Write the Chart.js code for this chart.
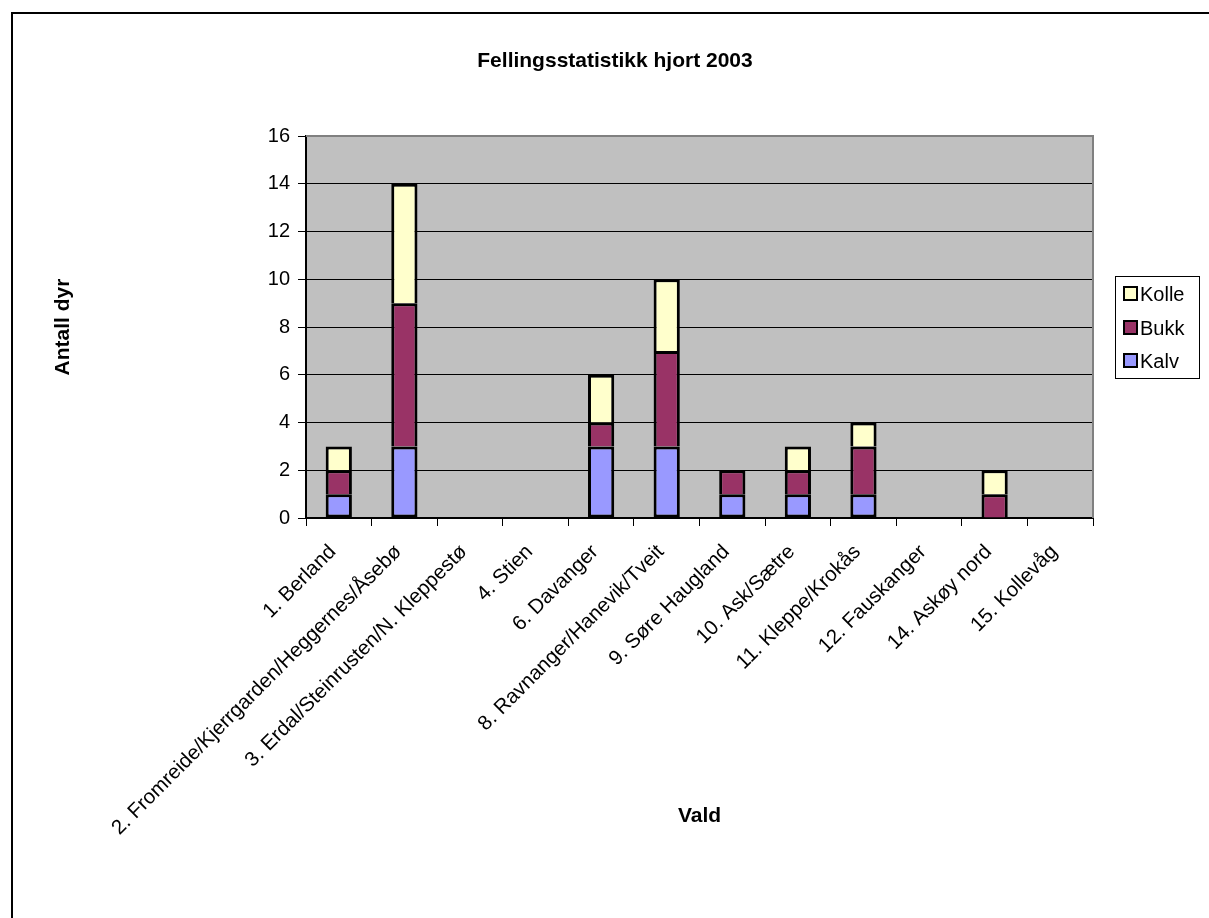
<!DOCTYPE html>
<html>
<head>
<meta charset="utf-8">
<script src="https://cdn.jsdelivr.net/npm/chart.js@4"></script>
<style>
  html, body { margin: 0; padding: 0; background: #fff; overflow: hidden; }
  canvas { display: block; }
</style>
</head>
<body>
<canvas id="hjort" width="1209" height="918"></canvas>
<script>
const categories = [
  "1. Berland",
  "2. Fromreide/Kjerrgarden/Heggernes/Åsebø",
  "3. Erdal/Steinrusten/N. Kleppestø",
  "4. Stien",
  "6. Davanger",
  "8. Ravnanger/Hanevik/Tveit",
  "9. Søre Haugland",
  "10. Ask/Sætre",
  "11. Kleppe/Krokås",
  "12. Fauskanger",
  "14. Askøy nord",
  "15. Kollevåg"
];
const kalv  = [1, 3, 0, 0, 3, 3, 1, 1, 1, 0, 0, 0];
const bukk  = [1, 6, 0, 0, 1, 4, 1, 1, 2, 0, 1, 0];
const kolle = [1, 5, 0, 0, 2, 3, 0, 1, 1, 0, 1, 0];
const yTicks = [0, 2, 4, 6, 8, 10, 12, 14, 16];

const FONT = "'Liberation Sans', Arial, sans-serif";

// grey plot area, outer frame, titles and the boxed legend
const excelLook = {
  id: "excelLook",
  beforeDraw(chart) {
    const { ctx, chartArea: a } = chart;
    ctx.save();
    ctx.fillStyle = "#fff";
    ctx.fillRect(0, 0, chart.width, chart.height);
    ctx.fillStyle = "#c0c0c0";
    ctx.fillRect(a.left, a.top, a.right - a.left, a.bottom - a.top);
    ctx.restore();
  },
  afterDraw(chart) {
    const { ctx, chartArea: a } = chart;
    ctx.save();
    // plot border (top/right grey)
    ctx.strokeStyle = "#808080";
    ctx.lineWidth = 2;
    ctx.beginPath();
    ctx.moveTo(a.left, a.top);
    ctx.lineTo(a.right, a.top);
    ctx.lineTo(a.right, a.bottom);
    ctx.stroke();

    // outer frame
    ctx.strokeStyle = "#000";
    ctx.lineWidth = 2;
    ctx.beginPath();
    ctx.moveTo(12, chart.height);
    ctx.lineTo(12, 13);
    ctx.lineTo(chart.width, 13);
    ctx.stroke();

    // titles
    ctx.fillStyle = "#000";
    ctx.font = "bold 21px " + FONT;
    ctx.textAlign = "center";
    ctx.textBaseline = "middle";
    ctx.fillText("Fellingsstatistikk hjort 2003", 615, 61);
    ctx.fillText("Vald", (a.left + a.right) / 2, 816);
    ctx.save();
    ctx.translate(63, (a.top + a.bottom) / 2);
    ctx.rotate(-Math.PI / 2);
    ctx.fillText("Antall dyr", 0, 0);
    ctx.restore();

    // legend
    ctx.fillStyle = "#fff";
    ctx.fillRect(1115, 276, 84, 102);
    ctx.strokeStyle = "#000";
    ctx.lineWidth = 1;
    ctx.strokeRect(1115.5, 276.5, 84, 102);
    const items = chart.data.datasets.slice().reverse();
    const rows = [294, 328, 361];
    ctx.font = "20px " + FONT;
    ctx.textAlign = "left";
    items.forEach((ds, i) => {
      const y = rows[i];
      ctx.fillStyle = ds.backgroundColor;
      ctx.fillRect(1124, y - 7, 13, 13);
      ctx.lineWidth = 2;
      ctx.strokeStyle = "#000";
      ctx.strokeRect(1124, y - 7, 13, 13);
      ctx.fillStyle = "#000";
      ctx.fillText(ds.label, 1140, y + 1);
    });
    ctx.restore();
  }
};

const barStyle = {
  borderColor: "#000",
  borderWidth: 3,
  inflateAmount: 0,
  categoryPercentage: 1.0,
  barPercentage: 0.4
};

new Chart(document.getElementById("hjort"), {
  type: "bar",
  data: {
    labels: categories,
    datasets: [
      { label: "Kalv",  data: kalv,  backgroundColor: "#9999ff", borderSkipped: false, ...barStyle },
      { label: "Bukk",  data: bukk,  backgroundColor: "#993366", borderSkipped: "start", ...barStyle },
      { label: "Kolle", data: kolle, backgroundColor: "#ffffcc", borderSkipped: "start", ...barStyle }
    ]
  },
  options: {
    responsive: false,
    animation: false,
    devicePixelRatio: 1,
    layout: { padding: { left: 0, top: 136, right: 116, bottom: 0 } },
    plugins: {
      legend: { display: false },
      title: { display: false },
      tooltip: { enabled: false }
    },
    scales: {
      x: {
        stacked: true,
        afterFit(scale) { scale.height = 400; },
        grid: {
          drawOnChartArea: false,
          drawTicks: true,
          tickLength: 8,
          color: "#000",
          offset: true
        },
        border: { color: "#000", width: 2 },
        ticks: {
          color: "#000",
          font: { family: FONT, size: 20.5 },
          minRotation: 45,
          maxRotation: 45,
          autoSkip: false,
          padding: 14,
          labelOffset: -6
        }
      },
      y: {
        stacked: true,
        min: 0,
        max: 16,
        afterFit(scale) { scale.width = 306; },
        afterBuildTicks(scale) {
          scale.ticks = yTicks.map(v => ({ value: v }));
        },
        grid: {
          color: "#000",
          lineWidth: 1,
          tickLength: 8,
          drawTicks: true
        },
        border: { color: "#000", width: 2 },
        ticks: {
          color: "#000",
          font: { family: FONT, size: 20 },
          padding: 8
        }
      }
    }
  },
  plugins: [excelLook]
});
</script>
</body>
</html>
